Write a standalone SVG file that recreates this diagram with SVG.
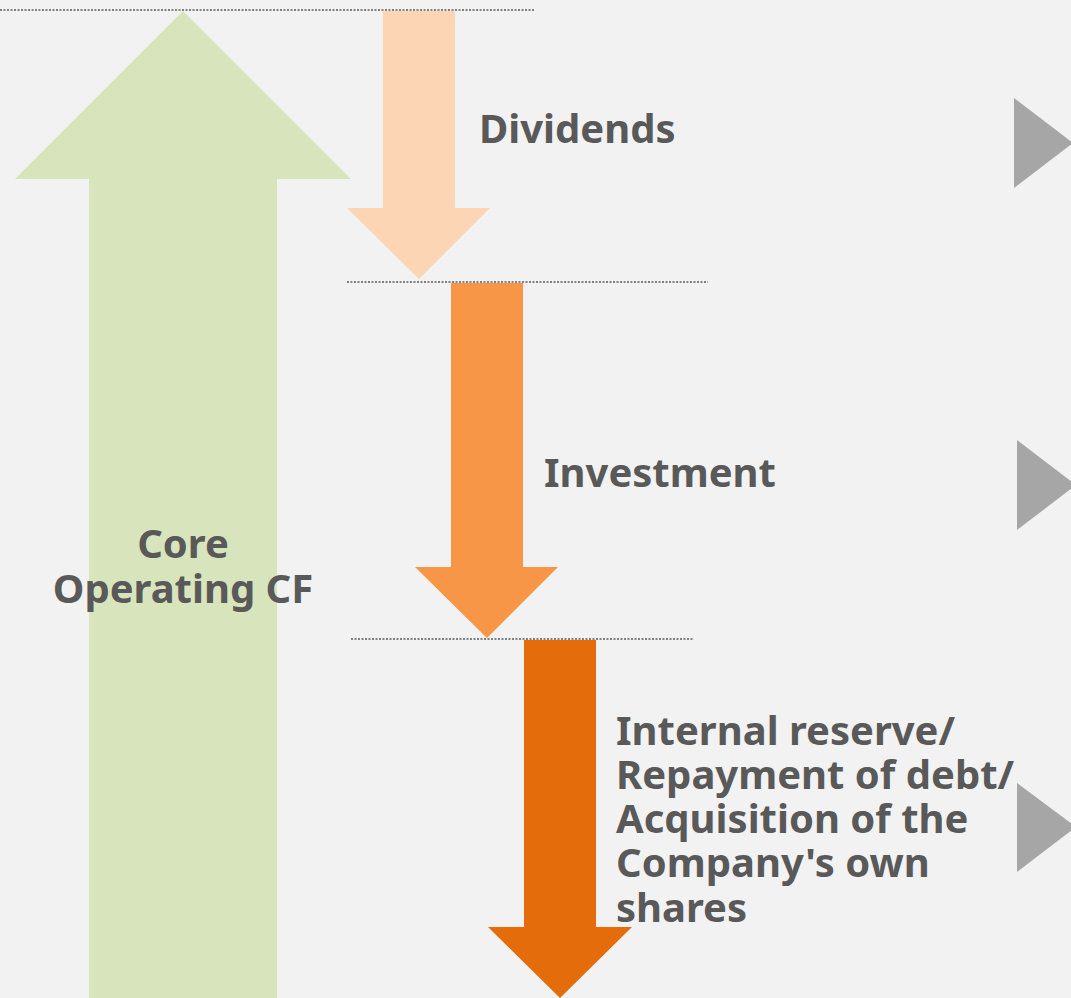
<svg xmlns="http://www.w3.org/2000/svg" width="1071" height="998" viewBox="0 0 1071 998">
<style>
.lbl{font-family:"Noto Sans","DejaVu Sans",sans-serif;font-weight:bold;font-size:40px;fill:#595959}
.dot{stroke:#595959;stroke-width:1.5;stroke-dasharray:2 1.5;fill:none}
.tri{fill:#A6A6A6}
</style>
<rect width="1071" height="998" fill="#F2F2F2"/>
<g id="connectors">
<line class="dot" x1="0" y1="10" x2="535" y2="10"/>
<line class="dot" x1="347" y1="282" x2="708" y2="282"/>
<line class="dot" x1="351" y1="639" x2="693" y2="639"/>
</g>
<g id="core-cf">
<polygon points="183,11 351,179 277,179 277,998 89,998 89,179 15,179" fill="#D8E4BC"/>
<text class="lbl" text-anchor="middle"><tspan x="183" y="558">Core</tspan><tspan x="183" y="603">Operating CF</tspan></text>
</g>
<g id="dividends">
<polygon points="383,11 455,11 455,208 490,208 419,279 347,208 383,208" fill="#FCD5B5"/>
<text class="lbl" x="479" y="143">Dividends</text>
</g>
<g id="investment">
<polygon points="451,283 523,283 523,567 558,567 487,638 415,567 451,567" fill="#F79646"/>
<text class="lbl" x="544" y="487">Investment</text>
</g>
<g id="reserve">
<polygon points="524,640 596,640 596,927 632,927 560,998 488,927 524,927" fill="#E46C0A"/>
<text class="lbl"><tspan x="616" y="745">Internal reserve/</tspan><tspan x="616" y="789">Repayment of debt/</tspan><tspan x="616" y="833">Acquisition of the</tspan><tspan x="616" y="877">Company's own</tspan><tspan x="616" y="922">shares</tspan></text>
</g>
<g id="pointer-1"><polygon class="tri" points="1014,98 1073,143 1014,188"/></g>
<g id="pointer-2"><polygon class="tri" points="1017,440 1076,485 1017,530"/></g>
<g id="pointer-3"><polygon class="tri" points="1017,783 1076,827 1017,872"/></g>
</svg>
